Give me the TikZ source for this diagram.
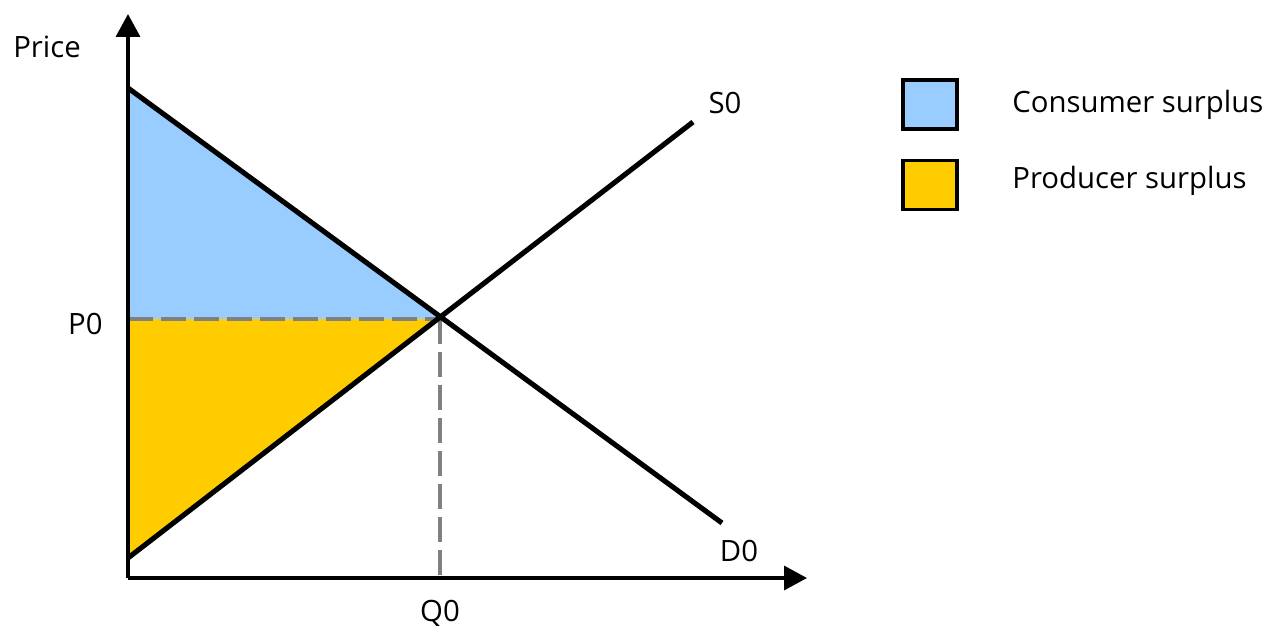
\documentclass[tikz,border=0pt]{standalone}
\usepackage{fontspec}
\setmainfont{Open Sans}
\usepackage{xcolor}
\usetikzlibrary{arrows.meta, positioning}
\definecolor{cslight}{HTML}{99CCFF}
\definecolor{psgold}{HTML}{FFCC00}
\tikzset{
  % Chart styles
  axis/.style={line width=2pt, -{Triangle[length=4.6mm, width=4.8mm]}},
  curve/.style={line width=2.9pt},
  guide/.style={line width=1.9pt, gray, dash pattern=on 5mm off 1.6mm},
  txt/.style={font=\fontsize{16.7}{20}\selectfont, inner sep=0pt},
  legendbox/.style={rectangle, draw=black, line width=1.8pt, minimum width=1.08cm, minimum height=0.98cm, fill=#1},
  legendbox/.default={cslight},
}
\begin{document}
\begin{tikzpicture}[x=0.02cm, y=-0.02cm]
    \useasboundingbox (0,0) rectangle (1276,626);

    % Key points
    \coordinate (O) at (128,578);
    \coordinate (ytip) at (128,14);
    \coordinate (xtip) at (807,578);
    \coordinate (dtop) at (128,88);
    \coordinate (dend) at (722,523);
    \coordinate (sbot) at (128,558);
    \coordinate (send) at (693,122);
    \coordinate (eq) at (440,319);
    \coordinate (p0) at (O |- eq);
    \coordinate (q0) at (eq |- O);

    % Surplus areas
    \fill[cslight] (dtop) -- (eq) -- (p0) -- cycle;
    \fill[psgold] (p0) -- (eq) -- (sbot) -- cycle;

    % Dashed guides
    \draw[guide] (p0) -- (eq);
    \draw[guide] (eq) -- (q0);

    % Supply and demand
    \draw[curve] (dtop) -- (dend);
    \draw[curve] (sbot) -- (send);

    % Axes
    \draw[axis] (O) -- (ytip);
    \draw[axis] (O) -- (xtip);

    % Labels
    \node[txt] (price) at (47,47) {Price};
    \node[txt, left=0.5cm of p0, yshift=-0.1cm] (p0lab) {P0};
    \node[txt, below=0.43cm of q0] (q0lab) {Q0};
    \node[txt] (s0lab) at (725,103) {S0};
    \node[txt] (d0lab) at (739,551) {D0};

    % Legend
    \node[legendbox=cslight] (csbox) at (930,104.5) {};
    \node[legendbox=psgold, below=0.56cm of csbox] (psbox) {};
    \node[txt, anchor=west] (cslab) at (1012,105) {Consumer surplus};
    \node[txt, anchor=west] (pslab) at (1012,181) {Producer surplus};
  \end{tikzpicture}
\end{document}
